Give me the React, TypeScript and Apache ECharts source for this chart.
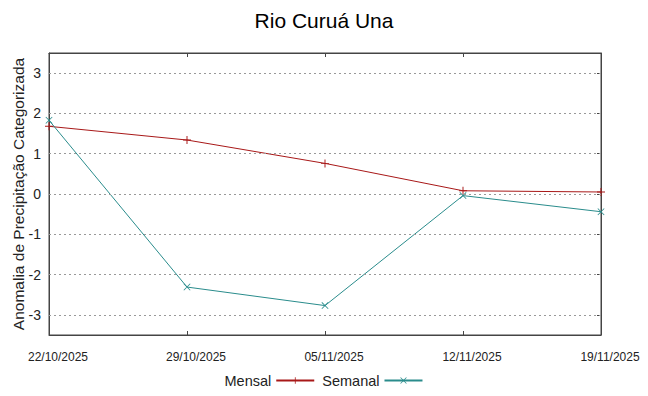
import React, { useEffect, useRef } from "react";
import * as echarts from "echarts";

const categories = ["22/10/2025", "29/10/2025", "05/11/2025", "12/11/2025", "19/11/2025"];
const mensal = [1.68, 1.34, 0.76, 0.08, 0.05];
const semanal = [1.83, -2.31, -2.77, -0.04, -0.44];
const yTicks = [-3, -2, -1, 0, 1, 2, 3];

const PLUS = "path://M0,4.4H10V5.6H0Z M4.4,0H5.6V10H4.4Z";
const CROSS = "path://M0,0.8L0.8,0L10,9.2L9.2,10Z M9.2,0L10,0.8L0.8,10L0,9.2Z";

export default function App() {
  const ref = useRef<HTMLDivElement>(null);
  useEffect(() => {
    const chart = echarts.init(ref.current!, null, { renderer: "svg" });
    const font = "Liberation Sans";
    chart.setOption({
      animation: false,
      backgroundColor: "#ffffff",
      title: {
        text: "Rio Curuá Una",
        left: "center",
        top: 5,
        textStyle: { fontFamily: font, fontSize: 21, fontWeight: "normal", color: "#000" },
      },
      legend: {
        bottom: 3,
        left: "center",
        align: "right",
        itemWidth: 38,
        itemHeight: 8,
        itemGap: 7,
        textStyle: { fontFamily: font, fontSize: 14.5, color: "#222" },
        data: [{ name: "Mensal" }, { name: "Semanal" }],
      },
      grid: {
        left: 49,
        right: 47,
        top: 53,
        bottom: 61,
        outerBoundsMode: "none",
        containLabel: false,
        show: true,
        borderColor: "#444",
        borderWidth: 1,
      },
      xAxis: [
        {
          type: "category",
          data: categories,
          boundaryGap: false,
          axisLine: { show: true, onZero: false, lineStyle: { color: "#444" } },
          axisTick: { show: true, inside: true, length: 4, lineStyle: { color: "#444" } },
          axisLabel: {
            fontFamily: font,
            fontSize: 12,
            color: "#222",
            margin: 16,
            padding: [0, 0, 0, 18],
            hideOverlap: false,
          },
          splitLine: { show: false },
        },
        {
          type: "category",
          data: categories,
          position: "top",
          boundaryGap: false,
          axisLine: { show: true, onZero: false, lineStyle: { color: "#444" } },
          axisTick: { show: true, inside: true, length: 4, lineStyle: { color: "#444" } },
          axisLabel: { show: false },
        },
      ],
      yAxis: [
        {
          type: "value",
          min: -3.5,
          max: 3.5,
          name: "Anomalia de Precipitação Categorizada",
          nameLocation: "middle",
          nameGap: 23,
          nameMoveOverlap: false,
          nameTextStyle: { fontFamily: font, fontSize: 15.5, color: "#222" },
          axisLine: { show: true, onZero: false, lineStyle: { color: "#444" } },
          axisTick: { show: false },
          axisLabel: {
            fontFamily: font,
            fontSize: 14,
            color: "#222",
            margin: 8,
            customValues: yTicks,
          },
          splitLine: { show: false },
        },
        {
          type: "value",
          position: "right",
          min: -3.5,
          max: 3.5,
          axisLine: { show: true, onZero: false, lineStyle: { color: "#444" } },
          axisTick: { show: true, inside: true, length: 4, customValues: yTicks, lineStyle: { color: "#444" } },
          axisLabel: { show: false, customValues: yTicks },
          splitLine: { show: false },
        },
      ],
      series: [
        {
          name: "grid",
          type: "line",
          data: [],
          silent: true,
          markLine: {
            silent: true,
            symbol: ["none", "none"],
            label: { show: false },
            lineStyle: { color: "#999", type: [2, 3], width: 1 },
            data: yTicks.map((v) => ({ yAxis: v })),
          },
        },
        {
          name: "Mensal",
          type: "line",
          data: mensal,
          symbol: PLUS,
          symbolSize: 8,
          lineStyle: { color: "#a81818", width: 1 },
          itemStyle: { color: "#a81818" },
        },
        {
          name: "Semanal",
          type: "line",
          data: semanal,
          symbol: CROSS,
          symbolSize: 7,
          lineStyle: { color: "#2a8c8c", width: 1 },
          itemStyle: { color: "#2a8c8c" },
        },
      ],
    });
    return () => chart.dispose();
  }, []);
  return <div ref={ref} style={{ width: 648, height: 396, position: "absolute", left: 0, top: 0 }} />;
}
